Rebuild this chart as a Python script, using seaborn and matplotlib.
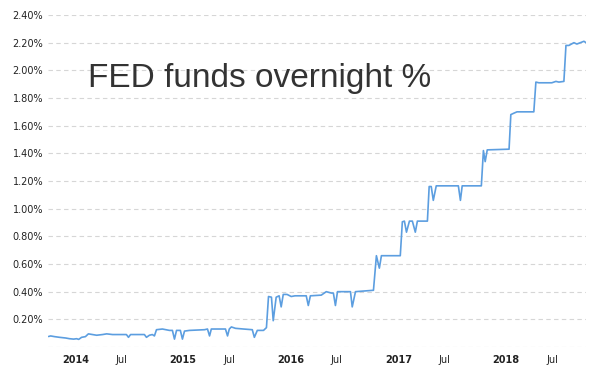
import matplotlib
matplotlib.use("Agg")
import matplotlib.pyplot as plt
import matplotlib.transforms as mtransforms
import seaborn as sns
import pandas as pd

# weekly-ish breakpoints (effective fed funds rate, %)
dates = [
    "2013-12-05", "2013-12-12", "2013-12-25", "2014-01-11", "2014-02-01", "2014-02-14",
    "2014-02-28", "2014-03-10", "2014-03-17", "2014-03-27", "2014-04-09", "2014-04-19",
    "2014-05-03", "2014-05-17", "2014-06-06", "2014-06-20", "2014-07-10", "2014-08-26",
    "2014-09-02", "2014-09-09", "2014-10-26", "2014-11-02", "2014-11-12", "2014-11-22",
    "2014-11-29", "2014-12-06", "2014-12-26", "2015-01-19", "2015-01-29", "2015-02-05",
    "2015-02-12", "2015-02-25", "2015-03-04", "2015-03-11", "2015-03-28", "2015-05-18",
    "2015-05-28", "2015-06-04", "2015-06-10", "2015-07-28", "2015-08-04", "2015-08-10",
    "2015-08-17", "2015-08-31", "2015-09-27", "2015-10-27", "2015-11-03", "2015-11-13",
    "2015-12-04", "2015-12-14", "2015-12-21", "2015-12-31", "2016-01-06", "2016-01-16",
    "2016-01-26", "2016-02-02", "2016-02-09", "2016-02-22", "2016-03-07", "2016-03-20",
    "2016-04-27", "2016-05-04", "2016-05-11", "2016-06-17", "2016-07-04", "2016-07-21",
    "2016-07-28", "2016-08-04", "2016-08-11", "2016-09-24", "2016-09-30", "2016-10-11",
    "2016-12-11", "2016-12-21", "2016-12-31", "2017-01-07", "2017-03-12", "2017-03-19",
    "2017-03-26", "2017-04-02", "2017-04-12", "2017-04-22", "2017-05-02", "2017-05-09",
    "2017-06-12", "2017-06-18", "2017-06-25", "2017-07-02", "2017-07-12", "2017-09-25",
    "2017-10-02", "2017-10-08", "2017-12-12", "2017-12-19", "2017-12-25", "2018-01-01",
    "2018-03-16", "2018-03-22", "2018-04-01", "2018-04-12", "2018-06-08", "2018-06-15",
    "2018-06-25", "2018-08-08", "2018-08-22", "2018-09-01", "2018-09-18", "2018-09-25",
    "2018-10-05", "2018-10-22", "2018-11-01", "2018-11-25", "2018-12-02",
]
rates = [
    0.076, 0.08, 0.075, 0.07, 0.065, 0.06,
    0.057, 0.06, 0.055, 0.07, 0.075, 0.095,
    0.09, 0.085, 0.09, 0.095, 0.09, 0.09,
    0.07, 0.09, 0.09, 0.07, 0.085, 0.09,
    0.08, 0.125, 0.13, 0.12, 0.12, 0.057,
    0.12, 0.12, 0.057, 0.115, 0.12, 0.125,
    0.13, 0.08, 0.13, 0.13, 0.08, 0.13,
    0.145, 0.135, 0.13, 0.125, 0.07, 0.12,
    0.12, 0.14, 0.365, 0.36, 0.19, 0.36,
    0.37, 0.29, 0.38, 0.38, 0.365, 0.37,
    0.37, 0.30, 0.37, 0.375, 0.40, 0.39,
    0.39, 0.30, 0.40, 0.40, 0.29, 0.40,
    0.41, 0.66, 0.57, 0.66, 0.66, 0.905,
    0.91, 0.83, 0.91, 0.91, 0.83, 0.91,
    0.91, 1.16, 1.16, 1.06, 1.165, 1.165,
    1.06, 1.165, 1.165, 1.42, 1.34, 1.425,
    1.43, 1.68, 1.69, 1.70, 1.70, 1.915,
    1.91, 1.91, 1.92, 1.915, 1.92, 2.18,
    2.18, 2.20, 2.19, 2.21, 2.20,
]

x_ticks = ["2014-01-01", "2014-07-01", "2015-01-01", "2015-07-01", "2016-01-01",
           "2016-07-01", "2017-01-01", "2017-07-01", "2018-01-01", "2018-07-01"]
x_labels = ["2014", "Jul", "2015", "Jul", "2016", "Jul", "2017", "Jul", "2018", "Jul"]
y_ticks = [0.0, 0.2, 0.4, 0.6, 0.8, 1.0, 1.2, 1.4, 1.6, 1.8, 2.0, 2.2, 2.4]

df = pd.DataFrame({"date": pd.to_datetime(dates), "rate": rates})

sns.set_style("white")
plt.rcParams["font.family"] = ["DejaVu Sans"]

fig = plt.figure(figsize=(5.98, 3.66), dpi=100)
ax = fig.add_axes([48 / 598, 19 / 366, 538 / 598, 332 / 366])

sns.lineplot(data=df, x="date", y="rate", ax=ax, color="#5c9ee0", linewidth=1.2)

ax.set_xlim(pd.Timestamp("2013-12-03"), pd.Timestamp("2018-12-02"))
ax.set_ylim(0, 2.4)
ax.set_xlabel("")
ax.set_ylabel("")

for s in ax.spines.values():
    s.set_visible(False)

ax.set_yticks(y_ticks)
ax.set_yticklabels(["" if v == 0 else f"{v:.2f}%" for v in y_ticks])
ax.yaxis.grid(True, linestyle=(0, (4, 3)), color="#d6d6d6", linewidth=0.8)
ax.xaxis.grid(False)
ax.tick_params(axis="y", length=0, pad=3.5, labelsize=7, labelcolor="#222222")

ax.set_xticks(pd.to_datetime(x_ticks))
ax.set_xticklabels(x_labels)
ax.tick_params(axis="x", length=0, pad=5.5, labelsize=7, labelcolor="#222222")
offset = mtransforms.ScaledTranslation(5.5 / 100, 0, fig.dpi_scale_trans)
for lab in ax.get_xticklabels():
    lab.set_horizontalalignment("left")
    lab.set_transform(lab.get_transform() + offset)
    if lab.get_text() != "Jul":
        lab.set_fontweight("bold")

# big caption inside the plot area
ax.text(88 / 598, (366 - 87) / 366, "FED funds overnight %", transform=fig.transFigure,
        fontsize=24, color="#333333", family=["Liberation Sans", "DejaVu Sans"],
        ha="left", va="baseline")

fig.savefig("out.png", dpi=100)
